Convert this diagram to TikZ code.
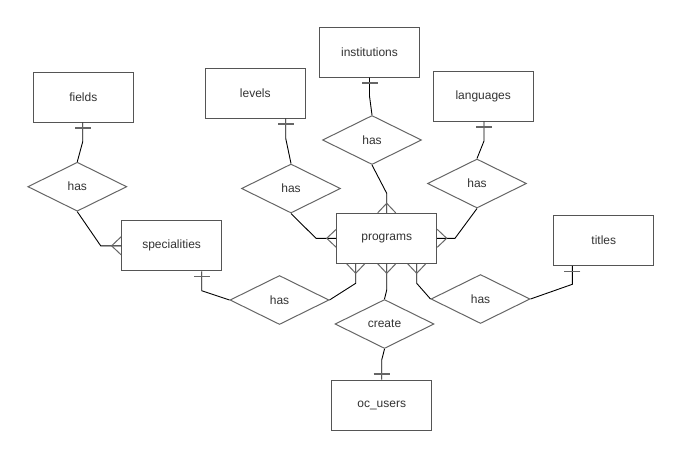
\documentclass[tikz,border=0pt]{standalone}
\usepackage{fontspec}
\setmainfont{Liberation Sans}
\usepackage{tikz}
\usetikzlibrary{shapes.geometric,decorations.markings}
\definecolor{BoxEdge}{HTML}{555555}
\definecolor{DiamondEdge}{HTML}{666666}
\definecolor{LabelGray}{HTML}{333333}

\begin{document}
\begin{tikzpicture}[x=1pt,y=-1pt,
    every node/.style={font=\fontsize{12pt}{14pt}\selectfont, text=LabelGray},
    entity/.style={draw=BoxEdge, line width=1pt, fill=white, inner sep=0pt,
                   minimum width=100pt, minimum height=50pt},
    relation/.style={diamond, aspect=2, draw=DiamondEdge, line width=1pt, fill=white,
                     inner sep=0pt, minimum width=99pt, minimum height=49pt},
    link/.style={draw=black, line width=0.9pt},
    onebar/.style={postaction={decorate, decoration={markings,
        mark=at position -5.5pt with {\draw[DiamondEdge, line width=1.1pt] (0pt,-8pt) -- (0pt,8pt);}}}},
    manyfoot/.style={postaction={decorate, decoration={markings,
        mark=at position -9.5pt with {\draw[DiamondEdge, line width=1pt] (9.5pt,9pt) -- (0pt,0pt) -- (9.5pt,-9pt);}}}}]
  \useasboundingbox (0,0) rectangle (679,456);

  \node[entity] (fields) at (83.3,97) {fields};
  \node[entity] (levels) at (255.3,93) {levels};
  \node[entity] (institutions) at (369.5,52) {institutions};
  \node[entity] (languages) at (483.2,96) {languages};
  \node[entity] (specialities) at (171.6,245.8) {specialities};
  \node[entity] (programs) at (386.7,238.3) {programs};
  \node[entity] (titles) at (603.8,240.3) {titles};
  \node[entity] (ocusers) at (381.7,405) {oc\_users};

  \node[relation] (hasFS) at (77.3,186.7) {has};
  \node[relation] (hasLP) at (291,188.5) {has};
  \node[relation] (hasIP) at (372,140) {has};
  \node[relation] (hasGP) at (477,183.5) {has};
  \node[relation] (hasSP) at (279.5,300) {has};
  \node[relation] (hasTP) at (480.5,299) {has};
  \node[relation] (createUP) at (384.5,324) {create};

  \draw[link, onebar] (hasFS.north) -- (82.7,141.7) -- (fields.south -| 82.7,0);
  \draw[link, manyfoot] (hasFS.south) -- (100.7,245.8) -- (specialities.west);
  \draw[link, onebar] (hasLP.north) -- (285.7,138.3) -- (levels.south -| 285.7,0);
  \draw[link, manyfoot] (hasLP.south) -- (316,238.3) -- (programs.west);
  \draw[link, onebar] (hasIP.north) -- (369.5,96) -- (institutions.south);
  \draw[link, manyfoot] (hasIP.south) -- (386.7,193.3) -- (programs.north);
  \draw[link, onebar] (hasGP.north) -- (484,141) -- (languages.south -| 484,0);
  \draw[link, manyfoot] (hasGP.south) -- (455,238.3) -- (programs.east);
  \draw[link, onebar] (hasSP.west) -- (201.7,290.7) -- (specialities.south -| 201.7,0);
  \draw[link, manyfoot] (hasSP.east) -- (355.7,283.3) -- (programs.south -| 355.7,0);
  \draw[link, manyfoot] (createUP.north) -- (386.7,290) -- (programs.south);
  \draw[link, onebar] (createUP.south) -- (381.7,360) -- (ocusers.north);
  \draw[link, manyfoot] (hasTP.west) -- (416.7,283.3) -- (programs.south -| 416.7,0);
  \draw[link, onebar] (hasTP.east) -- (572.3,284.3) -- (titles.south -| 572.3,0);
\end{tikzpicture}
\end{document}
